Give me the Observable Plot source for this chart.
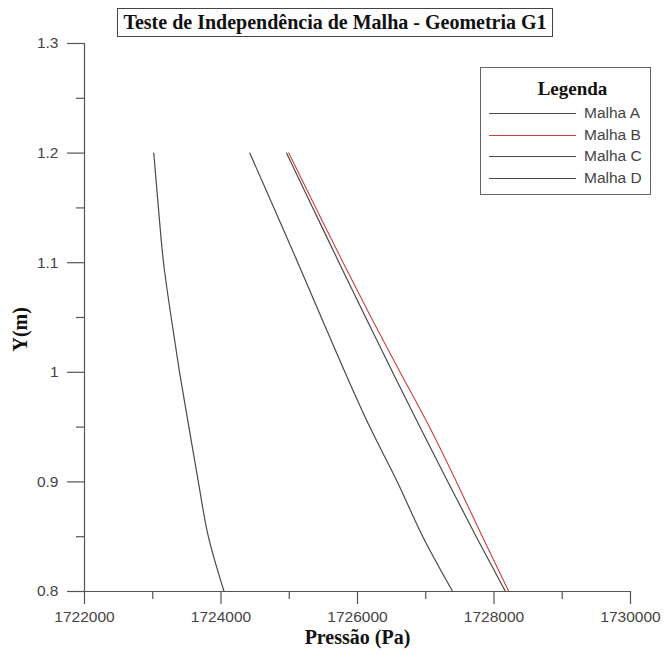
<!DOCTYPE html>
<html>
<head>
<meta charset="utf-8">
<script src="https://cdn.jsdelivr.net/npm/d3@7"></script>
<script src="https://cdn.jsdelivr.net/npm/@observablehq/plot@0.6"></script>
<style>
  html, body { margin: 0; padding: 0; background: #fff; }
  #wrap { position: relative; width: 666px; height: 664px; }
  #title {
    position: absolute; left: 117px; top: 8px; width: 434px; height: 27px;
    border: 1px solid #444; box-sizing: content-box;
    font: bold 20px "Liberation Serif", serif; color: #111;
    text-align: center; line-height: 27px; white-space: nowrap;
  }
  #legend {
    position: absolute; left: 480px; top: 67px; width: 171px; height: 128px;
    border: 1px solid #666; box-sizing: border-box; background: #fff;
  }
  #legend .lt { position: absolute; left: 0; width: 100%; top: 10px; text-align: center;
    font: bold 19px "Liberation Serif", serif; color: #111; padding-left: 14px; box-sizing: border-box; }
  #legend .row { position: absolute; left: 0; height: 18px; }
  #legend .sw { position: absolute; left: 8px; width: 87px; top: 9px; height: 0; border-top: 1.2px solid #555; }
  #legend .lb { position: absolute; left: 103px; top: 0; font: 15.5px "Liberation Sans", Arial, sans-serif; color: #444; white-space: nowrap; line-height: 18px; }
</style>
</head>
<body>
<div id="wrap">
  <div id="chart"></div>
  <div id="title">Teste de Independência de Malha - Geometria G1</div>
  <div id="legend"><div class="lt">Legenda</div></div>
</div>
<script>
// ---- data ----
const series = ["Malha A", "Malha B", "Malha C", "Malha D"];
const seriesColors = ["#4a4a4a", "#d23c3c", "#4a4a4a", "#4a4a4a"];
const yLevels = [0.8, 0.85, 0.9, 0.95, 1.0, 1.05, 1.1, 1.15, 1.2];
const malhaA = [1724045, 1723815, 1723668, 1723530, 1723393, 1723270, 1723158, 1723083, 1723015];
const malhaB = [1728217, 1727830, 1727450, 1727055, 1726625, 1726200, 1725790, 1725390, 1724993];
const malhaC = [1727395, 1726957, 1726584, 1726181, 1725817, 1725470, 1725126, 1724776, 1724422];
const malhaD = [1728168, 1727740, 1727325, 1726915, 1726515, 1726120, 1725730, 1725345, 1724960];
const xMajorTicks = [1722000, 1724000, 1726000, 1728000, 1730000];
const xMinorTicks = [1723000, 1725000, 1727000, 1729000];
const yMajorTicks = [0.8, 0.9, 1.0, 1.1, 1.2, 1.3];
const yMajorLabels = ["0.8", "0.9", "1", "1.1", "1.2", "1.3"];
const yMinorTicks = [0.85, 0.95, 1.05, 1.15, 1.25];
const xLabel = "Pressão (Pa)";
const yLabel = "Y(m)";

const allValues = [malhaA, malhaB, malhaC, malhaD];
const rows = [];
series.forEach((s, i) => allValues[i].forEach((p, j) => rows.push({series: s, p, y: yLevels[j]})));

const marks = [];
series.forEach((s, i) => {
  marks.push(Plot.line(rows.filter(r => r.series === s), {x: "p", y: "y", curve: "monotone-y",
    stroke: seriesColors[i], strokeWidth: i === 1 ? 1.1 : 1.2}));
});
marks.push(
  Plot.ruleY([0.8], {stroke: "#555", strokeWidth: 1.2}),
  Plot.ruleX([1722000], {stroke: "#555", strokeWidth: 1.2}),
  Plot.axisX({ticks: xMajorTicks, tickSize: 13, tickPadding: 6, stroke: "#555", strokeWidth: 1.2,
    tickFormat: d3.format("d"), fontSize: 15.5, fill: "#444", label: null}),
  Plot.axisX({ticks: xMinorTicks, tickSize: 8, stroke: "#555", strokeWidth: 1.2, text: null, label: null}),
  Plot.axisY({ticks: yMajorTicks, tickSize: 17, tickPadding: 9, stroke: "#555", strokeWidth: 1.2,
    tickFormat: d => yMajorLabels[yMajorTicks.indexOf(d)], fontSize: 15.5, fill: "#444", label: null}),
  Plot.axisY({ticks: yMinorTicks, tickSize: 8, stroke: "#555", strokeWidth: 1.2, text: null, label: null}),
  Plot.text([xLabel], {frameAnchor: "bottom", dy: 52, text: d => d, fontSize: 20, fontWeight: "bold",
    fontFamily: "Liberation Serif", fill: "#111"}),
  Plot.text([yLabel], {frameAnchor: "left", dx: -64, dy: 34, rotate: -90, text: d => d, fontSize: 20, fontWeight: "bold",
    fontFamily: "Liberation Serif", fill: "#111"})
);

const chart = Plot.plot({
  width: 666,
  height: 664,
  marginLeft: 84,
  marginRight: 36,
  marginTop: 43,
  marginBottom: 73,
  style: {fontFamily: "Liberation Sans, Arial, sans-serif", fontSize: "15px", background: "#fff", color: "#444"},
  x: {domain: [1722000, 1730000]},
  y: {domain: [0.8, 1.3]},
  marks
});
document.getElementById("chart").appendChild(chart);

// legend
const leg = document.getElementById("legend");
series.forEach((s, i) => {
  const row = document.createElement("div");
  row.className = "row";
  row.style.top = (36 + i * 21.5) + "px";
  row.style.width = "100%";
  const sw = document.createElement("div");
  sw.className = "sw";
  sw.style.borderTopColor = seriesColors[i];
  const lb = document.createElement("div");
  lb.className = "lb";
  lb.textContent = s;
  row.appendChild(sw); row.appendChild(lb);
  leg.appendChild(row);
});
</script>
</body>
</html>
